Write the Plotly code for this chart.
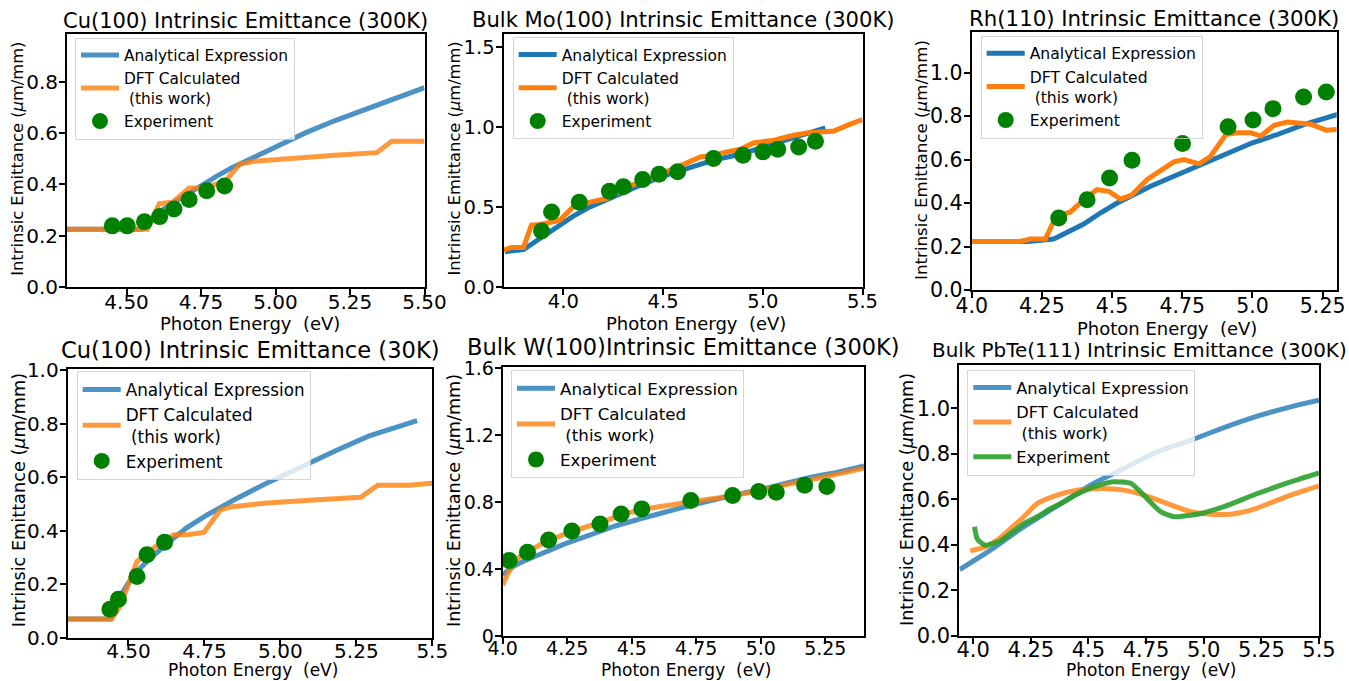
import plotly.graph_objects as go

FONT = "DejaVu Sans"
W, H = 1349, 681

# ---------------- data ----------------
# Panel 1: Cu(100) 300K
cu300_ana_E = [4.30, 4.55, 4.58, 4.62, 4.66, 4.70, 4.75, 4.80, 4.85, 4.90, 5.00, 5.10, 5.20, 5.30, 5.40, 5.50]
cu300_ana_V = [0.225, 0.225, 0.26, 0.30, 0.33, 0.36, 0.397, 0.43, 0.462, 0.49, 0.548, 0.60, 0.648, 0.692, 0.735, 0.776]
cu300_dft_E = [4.30, 4.57, 4.61, 4.655, 4.71, 4.755, 4.83, 4.88, 4.93, 5.00, 5.10, 5.20, 5.34, 5.39, 5.50]
cu300_dft_V = [0.225, 0.225, 0.325, 0.33, 0.385, 0.385, 0.41, 0.478, 0.49, 0.497, 0.505, 0.513, 0.523, 0.567, 0.567]
cu300_exp_E = [4.452, 4.502, 4.560, 4.611, 4.659, 4.710, 4.769, 4.829]
cu300_exp_V = [0.238, 0.238, 0.254, 0.274, 0.304, 0.341, 0.375, 0.393]

# Panel 2: Bulk Mo(100) 300K
mo_ana_E = [3.707, 3.80, 3.883, 3.967, 4.05, 4.134, 4.218, 4.30, 4.385, 4.50, 4.636, 4.753, 4.887, 5.00, 5.138, 5.314]
mo_ana_V = [0.219, 0.233, 0.302, 0.375, 0.442, 0.50, 0.546, 0.594, 0.635, 0.692, 0.75, 0.792, 0.829, 0.875, 0.927, 0.994]
mo_dft_E = [3.70, 3.74, 3.80, 3.84, 3.883, 3.933, 3.983, 4.05, 4.117, 4.218, 4.318, 4.419, 4.50, 4.553, 4.62, 4.686,
            4.753, 4.82, 4.887, 4.954, 5.055, 5.155, 5.222, 5.289, 5.356, 5.423, 5.50]
mo_dft_V = [0.229, 0.246, 0.246, 0.385, 0.39, 0.406, 0.417, 0.50, 0.525, 0.552, 0.625, 0.667, 0.708, 0.74, 0.775, 0.8125,
            0.823, 0.844, 0.86, 0.90, 0.917, 0.948, 0.963, 0.969, 0.975, 1.01, 1.046]
mo_exp_E = [3.891, 3.941, 4.080, 4.231, 4.301, 4.398, 4.480, 4.573, 4.753, 4.901, 5.001, 5.075, 5.180, 5.264]
mo_exp_V = [0.348, 0.467, 0.529, 0.598, 0.625, 0.671, 0.704, 0.719, 0.802, 0.823, 0.844, 0.860, 0.875, 0.910]

# Panel 3: Rh(110) 300K
rh_ana_E = [4.00, 4.20, 4.292, 4.339, 4.399, 4.458, 4.518, 4.577, 4.637, 4.72, 4.804, 4.899, 5.00, 5.089, 5.185, 5.304]
rh_ana_V = [0.223, 0.223, 0.234, 0.262, 0.303, 0.354, 0.40, 0.438, 0.477, 0.523, 0.569, 0.623, 0.677, 0.715, 0.762, 0.808]
rh_dft_E = [4.00, 4.173, 4.208, 4.262, 4.292, 4.315, 4.351, 4.399, 4.446, 4.488, 4.53, 4.571, 4.625, 4.673, 4.72,
            4.756, 4.81, 4.851, 4.905, 4.946, 4.994, 5.03, 5.077, 5.125, 5.208, 5.262, 5.304]
rh_dft_V = [0.223, 0.223, 0.234, 0.234, 0.315, 0.346, 0.358, 0.415, 0.462, 0.454, 0.418, 0.438, 0.508, 0.546, 0.589,
            0.60, 0.58, 0.615, 0.715, 0.723, 0.723, 0.708, 0.757, 0.772, 0.762, 0.735, 0.738]
rh_exp_E = [4.310, 4.411, 4.491, 4.571, 4.751, 4.913, 5.002, 5.073, 5.182, 5.263]
rh_exp_V = [0.331, 0.415, 0.515, 0.597, 0.674, 0.751, 0.782, 0.834, 0.888, 0.911]

# Panel 4: Cu(100) 30K
cu30_ana_E = [4.30, 4.44, 4.47, 4.50, 4.53, 4.57, 4.63, 4.69, 4.76, 4.85, 4.96, 5.07, 5.18, 5.29, 5.45]
cu30_ana_V = [0.07, 0.07, 0.15, 0.205, 0.25, 0.295, 0.355, 0.41, 0.46, 0.517, 0.581, 0.641, 0.698, 0.754, 0.812]
cu30_dft_E = [4.30, 4.445, 4.472, 4.494, 4.528, 4.561, 4.605, 4.649, 4.693, 4.748, 4.803, 4.847, 4.957, 5.122, 5.265,
              5.32, 5.42, 5.50]
cu30_dft_V = [0.07, 0.07, 0.116, 0.179, 0.285, 0.316, 0.354, 0.385, 0.385, 0.394, 0.479, 0.491, 0.504, 0.516, 0.525,
              0.57, 0.57, 0.578]
cu30_exp_E = [4.439, 4.467, 4.528, 4.561, 4.619]
cu30_exp_V = [0.106, 0.144, 0.229, 0.31, 0.3575]

# Panel 5: Bulk W(100) 300K
w_ana_E = [4.00, 4.041, 4.093, 4.171, 4.248, 4.339, 4.429, 4.533, 4.662, 4.791, 4.92, 5.05, 5.179, 5.308, 5.40]
w_ana_V = [0.365, 0.415, 0.455, 0.505, 0.555, 0.604, 0.654, 0.70, 0.754, 0.804, 0.85, 0.894, 0.944, 0.983, 1.017]
w_dft_E = [4.00, 4.028, 4.067, 4.145, 4.248, 4.377, 4.481, 4.61, 4.739, 4.869, 4.998, 5.127, 5.256, 5.40]
w_dft_V = [0.305, 0.395, 0.475, 0.545, 0.614, 0.678, 0.734, 0.774, 0.804, 0.834, 0.87, 0.914, 0.954, 1.003]
w_exp_E = [4.025, 4.096, 4.178, 4.268, 4.377, 4.459, 4.539, 4.729, 4.891, 4.992, 5.060, 5.170, 5.256]
w_exp_V = [0.451, 0.501, 0.5745, 0.628, 0.670, 0.730, 0.760, 0.810, 0.840, 0.864, 0.860, 0.902, 0.894]

# Panel 6: Bulk PbTe(111) 300K
pbte_ana_E = [3.942, 4.075, 4.22, 4.365, 4.509, 4.654, 4.799, 4.943, 5.088, 5.233, 5.377, 5.50]
pbte_ana_V = [0.291, 0.376, 0.479, 0.571, 0.662, 0.735, 0.808, 0.859, 0.915, 0.965, 1.006, 1.035]
pbte_dft_E = [3.988, 4.046, 4.104, 4.162, 4.22, 4.278, 4.365, 4.451, 4.553, 4.654, 4.741, 4.842, 4.943, 5.03, 5.117,
              5.204, 5.29, 5.377, 5.50]
pbte_dft_V = [0.373, 0.388, 0.42, 0.471, 0.523, 0.581, 0.618, 0.64, 0.647, 0.64, 0.618, 0.581, 0.545, 0.534, 0.534,
              0.552, 0.584, 0.618, 0.659]
pbte_exp_E = [4.006, 4.017, 4.032, 4.053, 4.089, 4.120, 4.162, 4.22, 4.278, 4.336, 4.394, 4.451, 4.524, 4.582, 4.61,
              4.683, 4.74, 4.813, 4.871, 4.914, 4.987, 5.088, 5.233, 5.377, 5.50]
pbte_exp_V = [0.479, 0.428, 0.41, 0.398, 0.406, 0.418, 0.449, 0.493, 0.523, 0.559, 0.589, 0.622, 0.654, 0.672, 0.677,
              0.67, 0.618, 0.545, 0.523, 0.526, 0.537, 0.567, 0.625, 0.676, 0.716]

# tick values / labels
p1_xt = [4.5, 4.75, 5.0, 5.25, 5.5]; p1_xl = ["4.50", "4.75", "5.00", "5.25", "5.50"]
p1_yt = [0, 0.2, 0.4, 0.6, 0.8]; p1_yl = ["0.0", "0.2", "0.4", "0.6", "0.8"]
p2_xt = [4.0, 4.5, 5.0, 5.5]; p2_xl = ["4.0", "4.5", "5.0", "5.5"]
p2_yt = [0, 0.5, 1.0, 1.5]; p2_yl = ["0.0", "0.5", "1.0", "1.5"]
p3_xt = [4.0, 4.25, 4.5, 4.75, 5.0, 5.25]; p3_xl = ["4.0", "4.25", "4.5", "4.75", "5.0", "5.25"]
p3_yt = [0, 0.2, 0.4, 0.6, 0.8, 1.0]; p3_yl = ["0.0", "0.2", "0.4", "0.6", "0.8", "1.0"]
p4_xt = [4.5, 4.75, 5.0, 5.25, 5.5]; p4_xl = ["4.50", "4.75", "5.00", "5.25", "5.5"]
p4_yt = [0, 0.2, 0.4, 0.6, 0.8, 1.0]; p4_yl = ["0.0", "0.2", "0.4", "0.6", "0.8", "1.0"]
p5_xt = [4.0, 4.25, 4.5, 4.75, 5.0, 5.25]; p5_xl = ["4.0", "4.25", "4.5", "4.75", "5.0", "5.25"]
p5_yt = [0, 0.4, 0.8, 1.2, 1.6]; p5_yl = ["0", "0.4", "0.8", "1.2", "1.6"]
p6_xt = [4.0, 4.25, 4.5, 4.75, 5.0, 5.25, 5.5]; p6_xl = ["4.0", "4.25", "4.5", "4.75", "5.0", "5.25", "5.5"]
p6_yt = [0, 0.2, 0.4, 0.6, 0.8, 1.0]; p6_yl = ["0.0", "0.2", "0.4", "0.6", "0.8", "1.0"]

titles = ["Cu(100) Intrinsic Emittance (300K)", "Bulk Mo(100) Intrinsic Emittance (300K)",
          "Rh(110) Intrinsic Emittance (300K)", "Cu(100) Intrinsic Emittance (30K)",
          "Bulk W(100)Intrinsic Emittance (300K)", "Bulk PbTe(111) Intrinsic Emittance (300K)"]
names = ["Analytical Expression", "DFT Calculated<br>\u00a0(this work)", "Experiment"]

# ---------------- layout geometry (pixels) ----------------
panels = [
    dict(box=(67, 424.5, 34, 287), xr=[4.30, 5.50], yr=[0, 0.985], xt=p1_xt, xl=p1_xl, yt=p1_yt, yl=p1_yl,
         ana=(cu300_ana_E, cu300_ana_V), dft=(cu300_dft_E, cu300_dft_V), exp=(cu300_exp_E, cu300_exp_V),
         alpha=0.8, smooth=False, exp_line=False, tick=20, tsize=21, tpos=(245.7, 29.3), xlpos=(249.5, 330.5),
         xlsize=18, xstand=-10, ylpos=(16.8, 159), ylsize=16.3, leg=(75, 37.5), legsize=15.4, legbg=0.8),
    dict(box=(503.5, 862.5, 33.5, 286.7), xr=[3.70, 5.50], yr=[0, 1.585], xt=p2_xt, xl=p2_xl, yt=p2_yt, yl=p2_yl,
         ana=(mo_ana_E, mo_ana_V), dft=(mo_dft_E, mo_dft_V), exp=(mo_exp_E, mo_exp_V),
         alpha=1.0, smooth=False, exp_line=False, tick=19.5, tsize=21.1, tpos=(683, 27.7), xlpos=(696, 330.5),
         xlsize=18, xstand=-10, ylpos=(453.5, 159), ylsize=16.3, leg=(512.7, 37), legsize=15.5, legbg=0.8),
    dict(box=(971.7, 1336.7, 32.3, 290), xr=[4.0, 5.30], yr=[0, 1.185], xt=p3_xt, xl=p3_xl, yt=p3_yt, yl=p3_yl,
         ana=(rh_ana_E, rh_ana_V), dft=(rh_dft_E, rh_dft_V), exp=(rh_exp_E, rh_exp_V),
         alpha=1.0, smooth=False, exp_line=False, tick=20.5, tsize=21.3, tpos=(1154, 26.7), xlpos=(1167, 335.5),
         xlsize=18, xstand=-10, ylpos=(921, 160), ylsize=16.7, leg=(980.7, 35.5), legsize=15.6, legbg=0.0),
    dict(box=(67.7, 432.3, 369.3, 637.7), xr=[4.30, 5.50], yr=[0, 1.004], xt=p4_xt, xl=p4_xl, yt=p4_yt, yl=p4_yl,
         ana=(cu30_ana_E, cu30_ana_V), dft=(cu30_dft_E, cu30_dft_V), exp=(cu30_exp_E, cu30_exp_V),
         alpha=0.8, smooth=False, exp_line=False, tick=20, tsize=22.6, tpos=(250, 358.5), xlpos=(252.5, 676.7),
         xlsize=17, xstand=-12, ylpos=(18.5, 500.8), ylsize=17.7, leg=(76.7, 371), legsize=16.8, legbg=0.8),
    dict(box=(502.7, 864, 366.7, 636), xr=[4.0, 5.40], yr=[0, 1.61], xt=p5_xt, xl=p5_xl, yt=p5_yt, yl=p5_yl,
         ana=(w_ana_E, w_ana_V), dft=(w_dft_E, w_dft_V), exp=(w_exp_E, w_exp_V),
         alpha=0.8, smooth=True, exp_line=False, tick=19, tsize=22.5, tpos=(683.3, 356), xlpos=(685.5, 676.7),
         xlsize=17, xstand=-12, ylpos=(454, 500), ylsize=17.6, leg=(511, 370), legsize=16.7, legbg=0.8),
    dict(box=(959.3, 1319, 365, 635.7), xr=[3.94, 5.50], yr=[0, 1.19], xt=p6_xt, xl=p6_xl, yt=p6_yt, yl=p6_yl,
         ana=(pbte_ana_E, pbte_ana_V), dft=(pbte_dft_E, pbte_dft_V), exp=(pbte_exp_E, pbte_exp_V),
         alpha=0.8, smooth=True, exp_line=True, tick=21, tsize=19.9, tpos=(1139, 358), xlpos=(1151, 676.7),
         xlsize=17, xstand=-12, ylpos=(907, 500), ylsize=17.6, leg=(967.3, 369.5), legsize=16.2, legbg=0.8),
]


def px(x):
    return x / W


def py(y):
    return 1 - y / H


fig = go.Figure()
annotations = []
layout = dict(width=W, height=H, margin=dict(l=0, r=0, t=0, b=0, autoexpand=False),
              paper_bgcolor="white", plot_bgcolor="white", showlegend=True,
              font=dict(family=FONT, color="black"))

for i, p in enumerate(panels, start=1):
    sfx = "" if i == 1 else str(i)
    xa, ya = "x" + sfx, "y" + sfx
    lg = "legend" + sfx
    a = p["alpha"]
    blue = f"rgba(31,119,180,{a})"
    orange = f"rgba(255,127,14,{a})"
    shape = "spline" if p["smooth"] else "linear"
    fig.add_trace(go.Scatter(x=p["ana"][0], y=p["ana"][1], mode="lines", name=names[0],
                             line=dict(color=blue, width=5, shape=shape, smoothing=0.8),
                             xaxis=xa, yaxis=ya, legend=lg))
    fig.add_trace(go.Scatter(x=p["dft"][0], y=p["dft"][1], mode="lines", name=names[1],
                             line=dict(color=orange, width=5, shape=shape, smoothing=0.8),
                             xaxis=xa, yaxis=ya, legend=lg))
    if p["exp_line"]:
        fig.add_trace(go.Scatter(x=p["exp"][0], y=p["exp"][1], mode="lines", name=names[2],
                                 line=dict(color="rgba(44,160,44,0.9)", width=5, shape="spline", smoothing=0.6),
                                 xaxis=xa, yaxis=ya, legend=lg))
    else:
        fig.add_trace(go.Scatter(x=p["exp"][0], y=p["exp"][1], mode="markers", name=names[2],
                                 marker=dict(color="green", size=17), xaxis=xa, yaxis=ya, legend=lg))

    l, r, t, b = p["box"]
    axis_common = dict(showline=True, linecolor="black", linewidth=2, mirror=True,
                       ticks="outside", ticklen=6, tickwidth=1.5, tickcolor="black",
                       showgrid=False, zeroline=False, tickmode="array", automargin=False,
                       tickfont=dict(family=FONT, size=p["tick"], color="black"))
    layout["xaxis" + sfx] = dict(axis_common, domain=[px(l), px(r)], range=p["xr"], anchor=ya,
                                 tickvals=p["xt"], ticktext=p["xl"], ticklabelstandoff=p["xstand"])
    layout["yaxis" + sfx] = dict(axis_common, domain=[py(b), py(t)], range=p["yr"], anchor=xa,
                                 tickvals=p["yt"], ticktext=p["yl"], ticklabelstandoff=-3)
    layout[lg] = dict(x=px(p["leg"][0]), y=py(p["leg"][1]), xanchor="left", yanchor="top",
                      bgcolor=f"rgba(255,255,255,{p['legbg']})", bordercolor="rgba(204,204,204,0.8)",
                      borderwidth=1, font=dict(family=FONT, size=p["legsize"], color="black"), itemwidth=38)

    # title
    ts = p["tsize"]
    annotations.append(dict(text=titles[i - 1], xref="paper", yref="paper",
                            x=px(p["tpos"][0]), y=py(p["tpos"][1] + 0.236 * ts + 1),
                            xanchor="center", yanchor="bottom", showarrow=False,
                            font=dict(family=FONT, size=ts, color="black")))
    # x label
    xs = p["xlsize"]
    annotations.append(dict(text="Photon Energy\u00a0\u00a0(eV)", xref="paper", yref="paper",
                            x=px(p["xlpos"][0]), y=py(p["xlpos"][1] + 0.236 * xs + 1),
                            xanchor="center", yanchor="bottom", showarrow=False,
                            font=dict(family=FONT, size=xs, color="black")))
    # y label
    annotations.append(dict(text="Intrinsic Emittance (<i>\u03bc</i>m/mm)", xref="paper", yref="paper",
                            x=px(p["ylpos"][0]), y=py(p["ylpos"][1]), textangle=-90,
                            xanchor="center", yanchor="middle", showarrow=False,
                            font=dict(family=FONT, size=p["ylsize"], color="black")))

layout["annotations"] = annotations
fig.update_layout(**layout)
fig.write_html("out.html")
